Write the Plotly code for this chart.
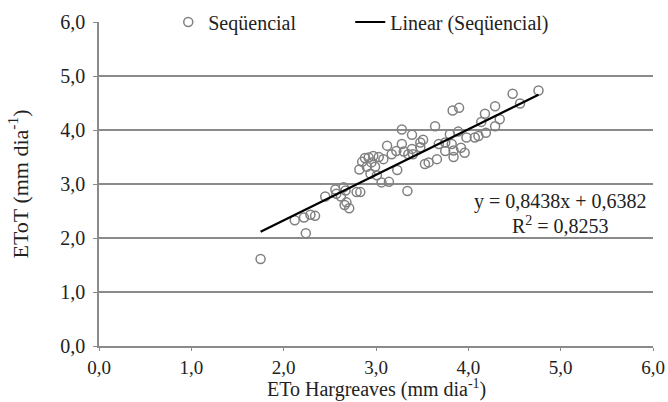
import plotly.graph_objects as go

# ETo Hargreaves (x) and EToT (y) values, mm/dia
x_vals = [1.75, 2.12, 2.22, 2.29, 2.34, 2.24, 2.45, 2.56, 2.57, 2.62, 2.65, 2.67, 2.68, 2.66, 2.71,
          2.79, 2.82, 2.85, 2.88, 2.90, 2.92, 2.97, 2.95, 2.99, 2.94, 3.01, 3.03, 3.08, 3.12, 3.06,
          3.14, 2.83, 3.28, 3.39, 3.64, 3.80, 3.89, 3.98, 4.11, 3.28, 3.48, 3.51, 3.48, 3.39, 3.17,
          3.22, 3.30, 3.35, 3.68, 3.75, 3.82, 3.75, 3.84, 3.84, 3.92, 3.96, 3.53, 3.57, 3.66, 3.23,
          3.34, 3.83, 3.90, 4.14, 4.18, 4.19, 4.29, 4.29, 4.34, 4.48, 4.56, 4.76, 4.07, 3.40]
y_vals = [1.61, 2.33, 2.38, 2.43, 2.41, 2.09, 2.77, 2.90, 2.82, 2.77, 2.94, 2.88, 2.66, 2.61, 2.55,
          2.85, 3.27, 3.41, 3.48, 3.32, 3.49, 3.52, 3.40, 3.32, 3.19, 3.16, 3.50, 3.46, 3.71, 3.03,
          3.04, 2.85, 4.01, 3.91, 4.07, 3.92, 3.97, 3.86, 3.89, 3.74, 3.77, 3.82, 3.68, 3.65, 3.55,
          3.61, 3.60, 3.55, 3.74, 3.77, 3.74, 3.61, 3.62, 3.50, 3.67, 3.58, 3.37, 3.40, 3.46, 3.26,
          2.87, 4.36, 4.41, 4.15, 4.30, 3.95, 4.07, 4.44, 4.20, 4.67, 4.49, 4.73, 3.86, 3.55]

slope = 0.8438
intercept = 0.6382
r2 = 0.8253

tick_vals = [0, 1, 2, 3, 4, 5, 6]
tick_text = ["0,0", "1,0", "2,0", "3,0", "4,0", "5,0", "6,0"]

x_title = "ETo Hargreaves (mm dia<sup>-1</sup>)"
y_title = "EToT (mm dia<sup>-1</sup>)"

x_line = [min(x_vals), max(x_vals)]
y_line = [slope * v + intercept for v in x_line]


def comma(v):
    return f"{v:.4f}".replace(".", ",")


FONT = "Liberation Serif"
TXT = "#222222"
GREY = "#8a8a8a"

fig = go.Figure()
fig.add_trace(go.Scatter(
    x=x_vals, y=y_vals, mode="markers", name="Seqüencial", legend="legend",
    marker=dict(symbol="circle-open", size=9, color="#808080", line=dict(width=1.5, color="#808080")),
))
fig.add_trace(go.Scatter(
    x=x_line, y=y_line, mode="lines", name="Linear (Seqüencial)", legend="legend2",
    line=dict(color="black", width=2.2),
))

legend_common = dict(orientation="h", y=1.0, xanchor="left", yanchor="middle",
                     font=dict(family=FONT, size=20, color=TXT), bgcolor="rgba(0,0,0,0)",
                     itemwidth=30)

fig.update_layout(
    width=668, height=402,
    margin=dict(l=99, r=15, t=22, b=56, autoexpand=False),
    paper_bgcolor="white", plot_bgcolor="white",
    font=dict(family=FONT, size=20, color=TXT),
    showlegend=True,
    legend=dict(x=0.125, **legend_common),
    legend2=dict(x=0.4535, **legend_common),
    xaxis=dict(range=[0, 6], tickvals=tick_vals, ticktext=tick_text, showgrid=False,
               showline=True, linecolor=GREY, linewidth=1.5, ticks="outside", ticklen=3,
               tickcolor=GREY, zeroline=False, tickfont=dict(size=19, family=FONT, color=TXT)),
    yaxis=dict(range=[0, 6], tickvals=tick_vals, ticktext=tick_text, showgrid=True,
               gridcolor=GREY, gridwidth=1.5,
               showline=True, linecolor=GREY, linewidth=1.5, ticks="outside", ticklen=4,
               tickcolor=GREY, zeroline=False, tickfont=dict(size=20, family=FONT, color=TXT),
               ticklabelstandoff=4,
               title=dict(text=y_title, font=dict(size=22, family=FONT, color=TXT),
                          standoff=26)),
)
fig.add_annotation(x=0.5, y=-0.1728, xref="paper", yref="paper", text=x_title,
                   showarrow=False, xanchor="center", yanchor="bottom", borderpad=0,
                   font=dict(family=FONT, size=20, color=TXT))
fig.add_annotation(x=5.0, y=2.67, xref="x", yref="y",
                   text="y = %sx + %s" % (comma(slope), comma(intercept)),
                   showarrow=False, xanchor="center", yanchor="middle",
                   font=dict(family=FONT, size=20, color=TXT))
fig.add_annotation(x=5.0, y=2.24, xref="x", yref="y",
                   text="R<sup>2</sup> = %s" % comma(r2),
                   showarrow=False, xanchor="center", yanchor="middle",
                   font=dict(family=FONT, size=20, color=TXT))

fig.write_html("out.html")
